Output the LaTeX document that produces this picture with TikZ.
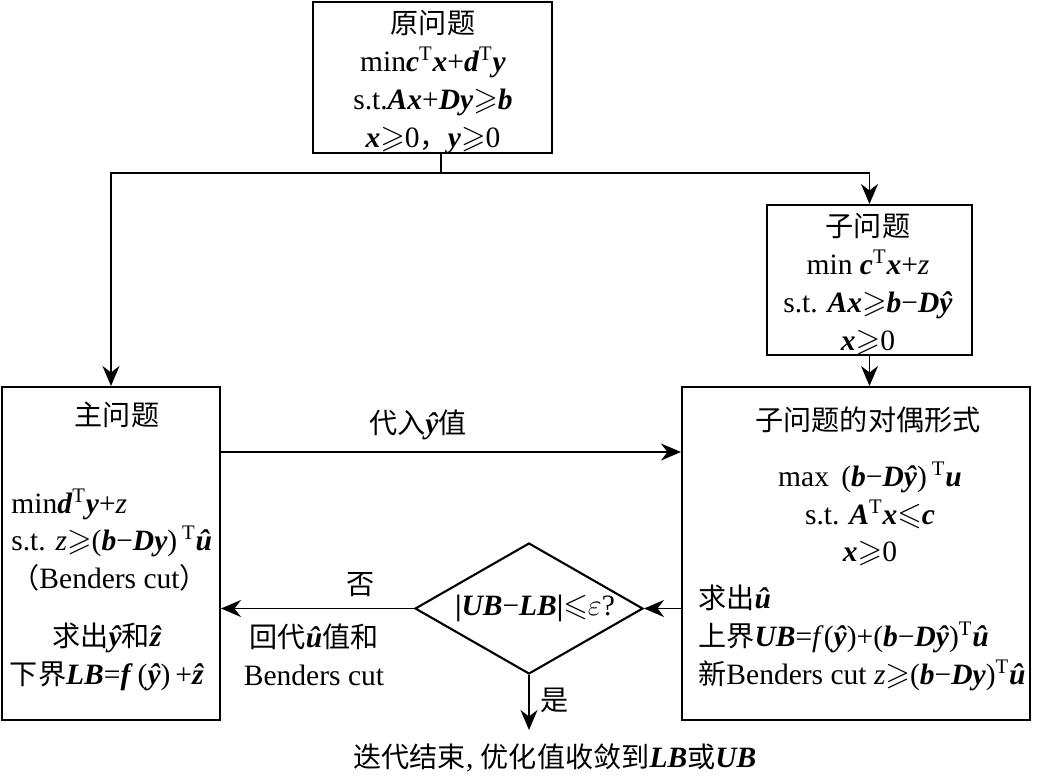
\documentclass[tikz,border=0pt]{standalone}
\usepackage{amssymb}
\usepackage{fontspec}
\setmainfont{Liberation Serif}[Scale=1.05]
\newfontfamily\cjk{Noto Sans CJK SC}
\usetikzlibrary{arrows.meta,shapes.geometric}
\newcommand{\bv}[1]{\textbf{\textit{#1}}}
\newcommand{\zh}[1]{{\cjk #1}}
\newcommand{\tp}{\textsuperscript{T}}
\newcommand{\geqs}{{\fontsize{18}{21}\selectfont$\geqslant$}}
\newcommand{\leqs}{{\fontsize{18}{21}\selectfont$\leqslant$}}

\begin{document}
\begin{tikzpicture}[
  x=0.02cm, y=-0.02cm,
  every node/.style={font=\fontsize{16}{21.5}\selectfont},
  box/.style={draw, line width=1.2pt, inner sep=0pt},
  txt/.style={inner sep=0pt, align=center},
  dec/.style={diamond, draw, line width=1.2pt, inner sep=0pt, minimum width=4.56cm, minimum height=2.62cm},
  arr/.style={-{Stealth[length=0.4cm, width=0.34cm]}, line width=1.1pt},
  link/.style={line width=1.1pt}
]
  \useasboundingbox (0,0) rectangle (1042,782);
  % boxes
  \node[box, minimum width=4.78cm, minimum height=3.02cm] (orig) at (432.5,77.5) {};
  \node[box, minimum width=4.1cm, minimum height=3.0cm] (sub) at (869.5,280) {};
  \node[box, minimum width=4.36cm, minimum height=6.66cm] (master) at (111,553.5) {};
  \node[box, minimum width=6.96cm, minimum height=6.66cm] (dual) at (856,553.5) {};
  \node[dec] (check) at (529,608.5) {};

  % texts in the boxes
  \node[txt] (otext) at (433,82)
    {\zh{原问题}\\ min\bv{c}\tp\bv{x}+\bv{d}\tp\bv{y}\\ s.t.\bv{Ax}+\bv{Dy}\geqs\bv{b}\\ \bv{x}\geqs0\zh{，}\bv{y}\geqs0};
  \node[txt] (stext) at (868,284)
    {\zh{子问题}\\ min \bv{c}\tp\bv{x}+\textit{z}\\ s.t. \bv{Ax}\geqs\bv{b}−\bv{Dŷ}\\ \bv{x}\geqs0};
  \node[txt] (mtitle) at (117,415) {\zh{主问题}};
  \node[txt, align=left, anchor=west] (mbody) at (11,540)
    {min\bv{d}\tp\bv{y}+\textit{z}\\ s.t. \textit{z}\geqs(\bv{b}−\bv{Dy})\,\tp\bv{û}\\ \zh{（}Benders cut\zh{）}};
  \node[txt] (mres) at (107,657)
    {\zh{求出}\bv{ŷ}\zh{和}\bv{ẑ}\\ \zh{下界}\bv{LB}=\bv{f}\,(\bv{ŷ})\,+\bv{ẑ}};
  \node[txt] (dtitle) at (868,420) {\zh{子问题的对偶形式}};
  \node[txt] (dbody) at (870,514)
    {max \,(\bv{b}−\bv{Dŷ})\,\tp\bv{u}\\ s.t. \bv{A}\tp\bv{x}\leqs\bv{c}\\ \bv{x}\geqs0};
  \node[txt, align=left, anchor=west] (dres) at (698,638)
    {\zh{求出}\bv{û}\\ \zh{上界}\bv{UB}=\textit{f}(\bv{ŷ})+(\bv{b}−\bv{Dŷ})\tp\bv{û}\\ \zh{新}Benders cut \textit{z}\geqs(\bv{b}−\bv{Dy})\tp\bv{û}};
  \node[txt] (crit) at (535,608) {\textbf{|}\bv{UB}−\bv{LB}\textbf{|}\leqs$\varepsilon$?};

  % labels
  \node[txt] (lsub) at (418,425) {\zh{代入}\bv{ŷ}\zh{值}};
  \node[txt] (lno) at (361,585) {\zh{否}};
  \node[txt] (lback) at (314,655) {\zh{回代}\bv{û}\zh{值和}\\ Benders cut};
  \node[txt] (lyes) at (555,700) {\zh{是}};
  \node[txt] (done) at (555,758) {\zh{迭代结束}, \zh{优化值收敛到}\bv{LB}\zh{或}\bv{UB}};

  % connectors
  \coordinate (split) at (441,173);
  \coordinate (ylev) at (0,452);
  \coordinate (stop) at (529,730);
  \draw[link] (orig.south -| split) -- (split);
  \draw[arr] (split) -| (master.north);
  \draw[arr] (split) -| (sub.north);
  \draw[arr] (sub.south) -- (sub.south |- dual.north);
  \draw[arr] (master.east |- ylev) -- (dual.west |- ylev);
  \draw[arr] (dual.west |- check) -- (check.east);
  \draw[arr] (check.west) -- (master.east |- check);
  \draw[arr] (check.south) -- (stop);
\end{tikzpicture}
\end{document}
